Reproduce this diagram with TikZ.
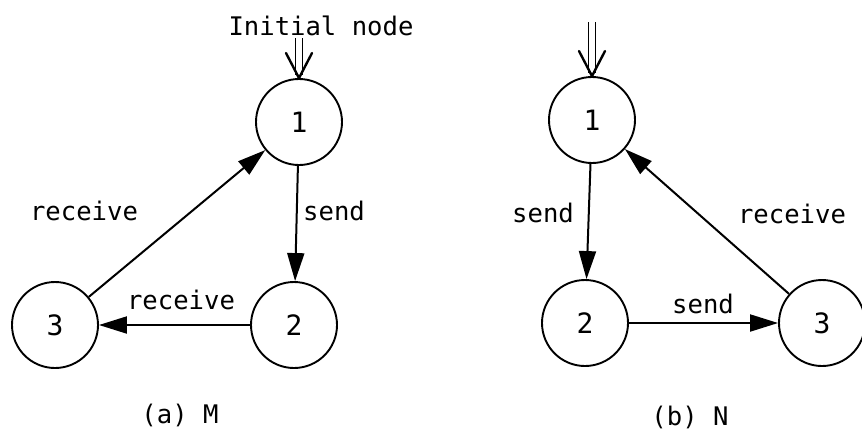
\documentclass[tikz,border=0pt]{standalone}
\usepackage{fontspec}
\setmainfont{DejaVu Sans Mono}
\usepackage{tikz}
\usetikzlibrary{arrows.meta}
\usetikzlibrary{shapes}

\begin{document}
\begin{tikzpicture}[>={Triangle[length=14pt,width=8.5pt]},line join=bevel,x=0.5pt,y=-0.5pt,
  state/.style={draw,circle,line width=0.95pt,minimum size=43pt,inner sep=0pt,font=\fontsize{14}{15}\selectfont},
  edge/.style={draw,line width=1pt,->},
  initedge/.style={double,double distance=2.6pt,line width=0.85pt,shorten >=1.5pt},
  initbarb/.style={line width=1.2pt,line cap=round},
  lbl/.style={anchor=base,inner sep=0pt,font=\fontsize{12.8}{15}\selectfont}]
\useasboundingbox (0,0) rectangle (862,436);
%% (a) M
\node (node_a1) at (299,122) [state] {1};
  \node (node_a2) at (294,325) [state] {2};
  \node (node_a3) at (55,325) [state] {3};
  \coordinate (init_a) at (299,38);
  \node (lbl_init) at (321,35) [lbl] {Initial node};
  \node (lbl_a12) at (334,220) [lbl] {send};
  \node (lbl_a31) at (84,220) [lbl] {receive};
  \node (lbl_a23) at (181,309) [lbl] {receive};
  \node (cap_a) at (180,423) [lbl] {(a) M};
  \draw [initedge] (init_a) -- (node_a1.north);
  \draw [initbarb] ([xshift=-6.5pt,yshift=12.5pt]node_a1.north) -- (node_a1.north) -- ([xshift=6.5pt,yshift=12.5pt]node_a1.north);
  \draw [edge] (node_a1) -- (node_a2);
  \draw [edge] (node_a2) -- (node_a3);
  \draw [edge] (node_a3) -- (node_a1);
%% (b) N
\node (node_b1) at (592,120) [state] {1};
  \node (node_b2) at (585,323) [state] {2};
  \node (node_b3) at (822,323) [state] {3};
  \coordinate (init_b) at (592,22);
  \node (lbl_b12) at (543,222) [lbl] {send};
  \node (lbl_b31) at (792,223) [lbl] {receive};
  \node (lbl_b23) at (703,313) [lbl] {send};
  \node (cap_b) at (690,425) [lbl] {(b) N};
  \draw [initedge] (init_b) -- (node_b1.north);
  \draw [initbarb] ([xshift=-6.5pt,yshift=12.5pt]node_b1.north) -- (node_b1.north) -- ([xshift=6.5pt,yshift=12.5pt]node_b1.north);
  \draw [edge] (node_b1) -- (node_b2);
  \draw [edge] (node_b2) -- (node_b3);
  \draw [edge] (node_b3) -- (node_b1);
%
\end{tikzpicture}
\end{document}
